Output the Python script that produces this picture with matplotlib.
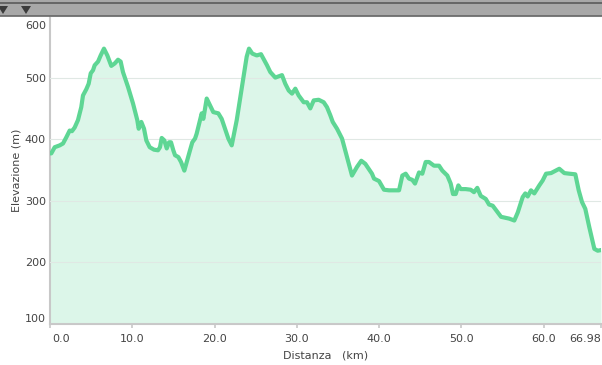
import matplotlib
matplotlib.use('Agg')
import matplotlib.pyplot as plt
import matplotlib.transforms as mtrans
from matplotlib.patches import Rectangle, Polygon

# elevation profile (distance km, elevation m)
dist = [0.0, 0.16, 0.57, 1.18, 1.58, 1.98, 2.39, 2.67, 3.00, 3.40, 3.80, 4.01, 4.41, 4.70,
        4.95, 5.23, 5.43, 5.84, 6.16, 6.56, 6.97, 7.45, 7.87, 8.27, 8.59, 8.87, 9.48,
        10.09, 10.61, 10.78, 11.10, 11.43, 11.71, 12.12, 12.64, 13.13, 13.37, 13.58,
        13.90, 14.19, 14.47, 14.71, 14.99, 15.20, 15.60, 15.93, 16.33, 16.62, 17.02,
        17.30, 17.63, 17.83, 18.24, 18.44, 18.64, 19.05, 19.45, 19.85, 20.46, 20.87,
        21.27, 21.68, 22.09, 22.70, 23.30, 23.91, 24.19, 24.59, 25.13, 25.65, 26.05,
        26.38, 26.78, 27.39, 27.80, 28.20, 28.60, 29.02, 29.42, 29.82, 30.23, 30.84,
        31.24, 31.64, 32.06, 32.66, 33.27, 33.67, 34.07, 34.37, 34.89, 35.50, 36.10,
        36.71, 37.32, 37.84, 38.33, 39.14, 39.39, 40.00, 40.60, 41.21, 42.43, 42.83,
        43.24, 43.64, 44.04, 44.37, 44.86, 45.26, 45.67, 46.07, 46.68, 47.29, 47.69,
        48.30, 48.71, 48.99, 49.32, 49.64, 49.93, 50.53, 51.14, 51.54, 51.94, 52.36,
        52.97, 53.37, 53.82, 54.83, 55.84, 56.44, 56.86, 57.46, 57.78, 58.07, 58.47,
        58.87, 59.48, 59.89, 60.30, 60.91, 61.91, 62.52, 63.13, 63.86, 64.27, 64.67,
        65.07, 65.56, 66.17, 66.58, 66.98]
elev = [377, 377, 387, 390, 393, 403, 414, 413, 419, 431, 452, 471, 481, 490,
        507, 512, 520, 526, 536, 547, 536, 519, 523, 529, 526, 509, 485,
        458, 431, 417, 428, 417, 398, 387, 383, 382, 387, 402,
        398, 385, 395, 395, 382, 374, 371, 363, 349, 363, 382,
        395, 401, 409, 431, 442, 433, 466, 455, 444, 442, 433,
        417, 401, 390, 431, 482, 534, 547, 539, 536, 538, 528,
        520, 509, 500, 502, 504, 490, 479, 474, 482, 471, 460,
        460, 450, 463, 464, 460, 452, 439, 428, 417, 401, 371,
        341, 355, 365, 360, 344, 336, 332, 318, 317, 317, 341,
        344, 336, 334, 328, 346, 344, 363, 363, 357, 357, 349,
        341, 328, 311, 311, 325, 319, 319, 318, 314, 321, 308,
        303, 294, 292, 274, 271, 268, 281, 306, 312, 307, 317,
        312, 325, 333, 344, 345, 352, 345, 344, 343, 317, 298,
        287, 257, 222, 219, 220]

x_ticks = [0, 10, 20, 30, 40, 50, 60, 66.98]
x_labels = ['0.0', '10.0', '20.0', '30.0', '40.0', '50.0', '60.0', '66.98']
y_ticks = [100, 200, 300, 400, 500, 600]

line_col = '#5ed694'
fill_col = '#dcf6e9'
text_col = '#444444'

fig = plt.figure(figsize=(6.02, 3.65), dpi=100)
ax = fig.add_axes([50/602, 41/365, 551/602, 308/365])

ax.fill_between(dist, elev, 0, color=fill_col, lw=0, zorder=1)
ax.plot(dist, elev, color=line_col, lw=3.0, solid_joinstyle='round', zorder=3)

ax.set_xlim(0, 66.98)
ax.set_ylim(100, 600)
ax.set_xticks(x_ticks)
ax.set_xticklabels(x_labels)
ax.set_yticks(y_ticks)
ax.yaxis.grid(True, color='#e0e8e4', lw=0.8, zorder=2)
ax.set_axisbelow(False)

for s in ['top', 'right']:
    ax.spines[s].set_visible(False)
for s in ['left', 'bottom']:
    ax.spines[s].set_color('#c8c8c8')
    ax.spines[s].set_linewidth(1.5)

ax.tick_params(axis='x', length=3, width=1.2, color='#c8c8c8', pad=4,
               labelsize=8, labelcolor=text_col)
ax.tick_params(axis='y', length=0, pad=3, labelsize=8, labelcolor=text_col)

# keep edge labels inside the plot area
xl = ax.xaxis.get_major_ticks()
xl[0].label1.set_horizontalalignment('left')
xl[0].label1.set_transform(xl[0].label1.get_transform() +
                           mtrans.ScaledTranslation(2/100, 0, fig.dpi_scale_trans))
xl[-1].label1.set_horizontalalignment('right')
yl = ax.yaxis.get_major_ticks()
yl[-1].label1.set_transform(yl[-1].label1.get_transform() +
                            mtrans.ScaledTranslation(0, -9/100, fig.dpi_scale_trans))
yl[0].label1.set_transform(yl[0].label1.get_transform() +
                           mtrans.ScaledTranslation(0, 6/100, fig.dpi_scale_trans))

ax.set_xlabel('Distanza   (km)', fontsize=8, color=text_col, labelpad=5)
ax.set_ylabel('Elevazione (m)', fontsize=8, color=text_col, labelpad=2)

# grey toolbar strip on top
fig.patches.append(Rectangle((0, 349/365), 1, 16/365, transform=fig.transFigure,
                             facecolor='#a8a8a8', edgecolor='none'))
fig.lines.append(plt.Line2D([0, 1], [362.5/365, 362.5/365], transform=fig.transFigure,
                            color='#5a5a5a', lw=1.2))
fig.lines.append(plt.Line2D([0, 1], [349/365, 349/365], transform=fig.transFigure,
                            color='#666666', lw=1.2))
for cx in [3, 26]:
    fig.patches.append(Polygon([((cx-5)/602, 359/365), ((cx+5)/602, 359/365),
                                (cx/602, 351/365)], closed=True,
                               transform=fig.transFigure, facecolor='#3c3c3c',
                               edgecolor='none'))

fig.savefig('out.png', dpi=100)
